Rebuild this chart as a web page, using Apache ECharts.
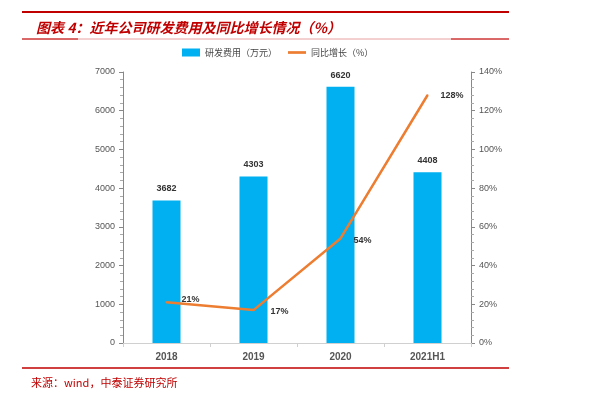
<!DOCTYPE html>
<html><head><meta charset="utf-8">
<script src="https://cdn.jsdelivr.net/npm/echarts@6/dist/echarts.min.js"></script>
<style>html,body{margin:0;padding:0;background:#fff}#c{width:591px;height:396px}</style>
</head><body><div id="c"></div>
<script>
const categories = ['2018', '2019', '2020', '2021H1'];
const rdExpense = [3682, 4303, 6620, 4408];
const yoyGrowth = [21, 17, 54, 128];
const leftTicks = [0, 1000, 2000, 3000, 4000, 5000, 6000, 7000];
const rightTicks = [0, 20, 40, 60, 80, 100, 120, 140];

const chart = echarts.init(document.getElementById('c'));
const lblFont = 'Liberation Sans Narrow, Arial Narrow, Liberation Sans, sans-serif';
const lineLabelOffsets = [[2, -3], [4, 1], [0, 2], [0, 0]];
chart.setOption({
  animation: false,
  title: {
    text: '图表 4：近年公司研发费用及同比增长情况（%）',
    left: 31, top: 16,
    textStyle: { color: '#C00000', fontSize: 14, fontWeight: 'bold', fontStyle: 'italic', fontFamily: 'Noto Sans CJK SC' }
  },
  legend: {
    top: 43, left: 177, itemGap: 11,
    itemWidth: 18, itemHeight: 8,
    textStyle: { fontSize: 9, color: '#444', fontFamily: 'Noto Sans CJK SC' },
    data: [
      { name: '研发费用（万元）', icon: 'rect' },
      { name: '同比增长（%）', icon: 'path://M0,0 L20,0 L20,3 L0,3 Z' }
    ]
  },
  graphic: [
    { type: 'line', shape: { x1: 22, y1: 12, x2: 509, y2: 12 }, style: { stroke: '#C00000', lineWidth: 2 } },
    { type: 'line', shape: { x1: 22, y1: 39, x2: 509, y2: 39 }, style: { stroke: '#E8A0A0', lineWidth: 1 } },
    { type: 'line', shape: { x1: 22, y1: 39, x2: 78, y2: 39 }, style: { stroke: '#C00000', lineWidth: 1 } },
    { type: 'line', shape: { x1: 451, y1: 39, x2: 509, y2: 39 }, style: { stroke: '#C00000', lineWidth: 1 } },
    { type: 'line', shape: { x1: 22, y1: 368, x2: 509, y2: 368 }, style: { stroke: '#C00000', lineWidth: 1.5 } },
    { type: 'text', left: 31, top: 377, style: { text: '来源：wind，中泰证券研究所', fill: '#C00000', fontSize: 11, fontFamily: 'Noto Sans CJK SC' } }
  ],
  grid: { left: 123, right: 120, top: 72, bottom: 53 },
  xAxis: {
    type: 'category', data: categories,
    axisLine: { lineStyle: { color: '#D0D0D0' } },
    axisTick: { show: true, alignWithLabel: false, length: 4, lineStyle: { color: '#D0D0D0' } },
    axisLabel: { color: '#555', fontSize: 10, fontWeight: 'bold', margin: 9, fontFamily: lblFont }
  },
  yAxis: [
    {
      type: 'value', min: leftTicks[0], max: leftTicks[leftTicks.length - 1], interval: 1000,
      splitLine: { show: false },
      axisLine: { show: true, lineStyle: { color: '#888' } },
      axisTick: { show: true, length: 4, lineStyle: { color: '#888' } },
      minorTick: { show: true, splitNumber: 5, length: 3, lineStyle: { color: '#aaa' } },
      axisLabel: { color: '#555', fontSize: 9, margin: 8, fontFamily: lblFont, formatter: v => String(v) }
    },
    {
      type: 'value', min: rightTicks[0], max: rightTicks[rightTicks.length - 1], interval: 20,
      splitLine: { show: false },
      axisLine: { show: true, lineStyle: { color: '#888' } },
      axisTick: { show: true, length: 4, lineStyle: { color: '#888' } },
      minorTick: { show: true, splitNumber: 5, length: 3, lineStyle: { color: '#aaa' } },
      axisLabel: { color: '#555', fontSize: 9, margin: 8, formatter: '{value}%', fontFamily: lblFont }
    }
  ],
  series: [
    {
      name: '研发费用（万元）', type: 'bar', data: rdExpense, barWidth: 28,
      itemStyle: { color: '#00B0F0' },
      label: { show: true, position: 'top', distance: 7, color: '#333', fontSize: 9, fontWeight: 'bold', fontFamily: lblFont }
    },
    {
      name: '同比增长（%）', type: 'line', yAxisIndex: 1,
      data: yoyGrowth.map((v, i) => ({ value: v, label: { offset: lineLabelOffsets[i] } })),
      symbol: 'circle', symbolSize: 2, showSymbol: true,
      lineStyle: { color: '#ED7D31', width: 2.5 }, itemStyle: { color: '#ED7D31' },
      label: { show: true, position: 'right', distance: 12, color: '#333', fontSize: 9, fontWeight: 'bold', formatter: '{c}%', fontFamily: lblFont }
    }
  ]
});
</script></body></html>
